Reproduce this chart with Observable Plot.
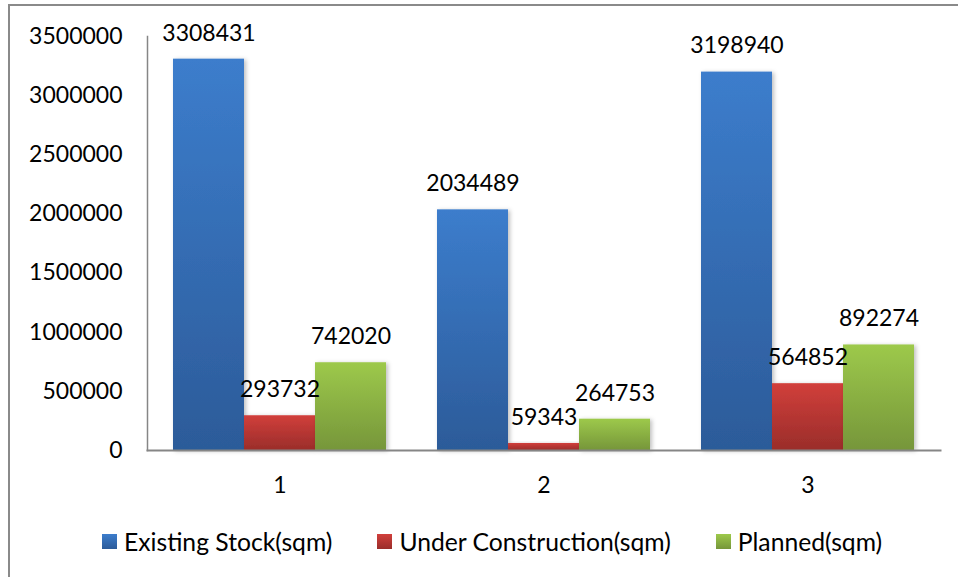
<!DOCTYPE html>
<html>
<head>
<meta charset="utf-8">
<script src="https://cdn.jsdelivr.net/npm/d3@7"></script>
<script src="https://cdn.jsdelivr.net/npm/@observablehq/plot@0.6"></script>
<style>
  html, body { margin: 0; padding: 0; background: #fff; }
  body { width: 958px; height: 577px; overflow: hidden; position: relative; font-family: Lato, "Open Sans", sans-serif; }
  #frame { position: absolute; left: 8px; top: 4px; width: 1000px; height: 640px; border-left: 2px solid #8a8a8a; border-top: 2px solid #8a8a8a; }
  #chart { position: absolute; left: 0; top: 0; }
  #legend { position: absolute; left: 102px; top: 527px; display: flex; align-items: center; font-size: 24.7px; color: #000; white-space: nowrap; }
  .item { display: flex; align-items: center; margin-right: 45px; }
  .sw { width: 15px; height: 15px; margin-right: 7px; }
</style>
</head>
<body>
<div id="frame"></div>
<div id="chart"></div>
<div id="legend"></div>
<script>
const categories = ["1", "2", "3"];
const seriesNames = ["Existing Stock(sqm)", "Under Construction(sqm)", "Planned(sqm)"];
const existingStock = [3308431, 2034489, 3198940];
const underConstruction = [293732, 59343, 564852];
const planned = [742020, 264753, 892274];
const yTicks = [0, 500000, 1000000, 1500000, 2000000, 2500000, 3000000, 3500000];
const gradTop = ["#3c7dcc", "#d13f3b", "#9dc94b"];
const gradBottom = ["#2c5b99", "#9a2d2a", "#76963a"];
const gradIds = ["gBlue", "gRed", "gGreen"];

const seriesValues = [existingStock, underConstruction, planned];
const data = [];
categories.forEach((c, i) => {
  seriesNames.forEach((s, j) => {
    data.push({cat: c, series: s, value: seriesValues[j][i]});
  });
});

const defs = () => {
  const ns = "http://www.w3.org/2000/svg";
  const d = document.createElementNS(ns, "defs");
  gradIds.forEach((id, k) => {
    const g = document.createElementNS(ns, "linearGradient");
    g.setAttribute("id", id);
    g.setAttribute("x1", "0"); g.setAttribute("y1", "0");
    g.setAttribute("x2", "0"); g.setAttribute("y2", "1");
    [[0, gradTop[k]], [1, gradBottom[k]]].forEach(([o, col]) => {
      const st = document.createElementNS(ns, "stop");
      st.setAttribute("offset", o);
      st.setAttribute("stop-color", col);
      g.appendChild(st);
    });
    d.appendChild(g);
  });
  const f = document.createElementNS(ns, "filter");
  f.setAttribute("id", "shadow");
  f.setAttribute("x", "-20%"); f.setAttribute("y", "-20%");
  f.setAttribute("width", "140%"); f.setAttribute("height", "140%");
  f.innerHTML = '<feDropShadow dx="2" dy="1" stdDeviation="2" flood-color="#000" flood-opacity="0.25"/>';
  d.appendChild(f);
  return d;
};

const chart = Plot.plot({
  width: 958,
  height: 500,
  marginLeft: 172,
  marginRight: 44,
  marginTop: 36,
  marginBottom: 50,
  style: {fontFamily: "Lato, 'Open Sans', sans-serif", fontSize: "23px", color: "#000", background: "transparent", overflow: "visible"},
  fx: {domain: categories, padding: 0.1947, label: null, axis: "bottom", tickSize: 0, tickPadding: 26},
  x: {domain: seriesNames, axis: null, padding: 0},
  y: {domain: [0, 3500000], ticks: yTicks, tickSize: 0, tickPadding: 51, label: null, tickFormat: d => String(d)},
  color: {domain: seriesNames, range: gradIds.map(id => `url(#${id})`)},
  marks: [
    defs,
    Plot.barY(data, {fx: "cat", x: "series", y: "value", fill: "series"}),
    Plot.frame({anchor: "left", facet: "super", stroke: "#868686", strokeWidth: 1.5, dx: -26}),
    Plot.frame({anchor: "bottom", facet: "super", stroke: "#868686", strokeWidth: 2, insetLeft: -26, insetRight: -26}),
    Plot.text(data, {fx: "cat", x: "series", y: "value", text: d => String(d.value), dy: -26, lineAnchor: "middle", fill: "#000", fontSize: 23})
  ]
});
document.getElementById("chart").appendChild(chart);
chart.querySelectorAll("g[aria-label='bar'] rect").forEach(r => r.setAttribute("filter", "url(#shadow)"));

const legend = document.getElementById("legend");
seriesNames.forEach((s, k) => {
  const item = document.createElement("div");
  item.className = "item";
  const sw = document.createElement("div");
  sw.className = "sw";
  sw.style.background = `linear-gradient(${gradTop[k]}, ${gradBottom[k]})`;
  const t = document.createElement("span");
  t.textContent = s;
  item.appendChild(sw);
  item.appendChild(t);
  legend.appendChild(item);
});
</script>
</body>
</html>
